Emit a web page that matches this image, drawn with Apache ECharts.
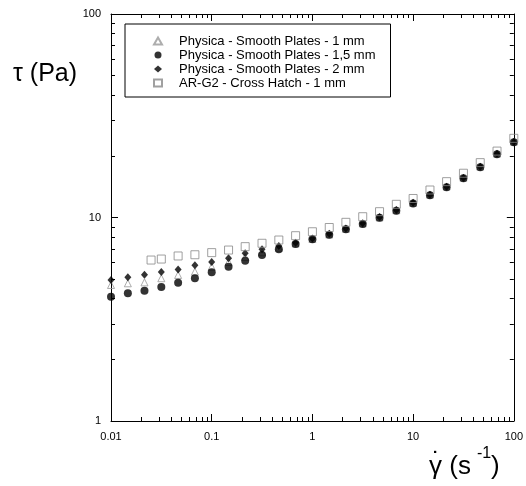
<!DOCTYPE html>
<html>
<head>
<meta charset="utf-8">
<title>tau vs shear rate</title>
<script src="https://cdn.jsdelivr.net/npm/echarts@6/dist/echarts.min.js"></script>
<style>
  html, body { margin: 0; padding: 0; background: #fff; }
  #chart { width: 526px; height: 486px; }
</style>
</head>
<body>
<div id="chart"></div>
<script>
// shear rates (1/s), six points per decade
var shearRate = [0.01, 0.0147, 0.0215, 0.0316, 0.0464, 0.0681, 0.1, 0.147, 0.215, 0.316, 0.464, 0.681,
                 1, 1.47, 2.15, 3.16, 4.64, 6.81, 10, 14.7, 21.5, 31.6, 46.4, 68.1, 100];
// shear stress (Pa)
var smooth1mm  = [4.66, 4.75, 4.80, 5.03, 5.22, 5.42, 5.73, 6.05, 6.40, 6.75, 7.10, 7.45,
                  7.85, 8.25, 8.80, 9.35, 10.0, 10.85, 11.8, 12.95, 14.2, 15.7, 17.8, 20.6, 23.6];
var smooth15mm = [4.08, 4.24, 4.37, 4.56, 4.78, 5.03, 5.38, 5.73, 6.13, 6.54, 6.98, 7.41,
                  7.81, 8.22, 8.75, 9.29, 9.98, 10.8, 11.7, 12.85, 14.07, 15.58, 17.65, 20.45, 23.4];
var smooth2mm  = [4.93, 5.08, 5.23, 5.40, 5.56, 5.82, 6.04, 6.30, 6.67, 6.98, 7.24, 7.52,
                  7.88, 8.32, 8.82, 9.36, 10.05, 10.9, 11.8, 12.95, 14.15, 15.65, 17.75, 20.55, 23.5];
var crossRate  = [0.025, 0.0316, 0.0464, 0.0681, 0.1, 0.147, 0.215, 0.316, 0.464, 0.681,
                  1, 1.47, 2.15, 3.16, 4.64, 6.81, 10, 14.7, 21.5, 31.6, 46.4, 68.1, 100];
var crossHatch1mm = [6.18, 6.25, 6.47, 6.56, 6.72, 6.92, 7.19, 7.47, 7.75, 8.14, 8.51,
                     8.93, 9.47, 10.09, 10.68, 11.61, 12.4, 13.65, 15.0, 16.5, 18.6, 21.2, 24.5];

var seriesNames = ['Physica - Smooth Plates - 1 mm', 'Physica - Smooth Plates - 1,5 mm',
                   'Physica - Smooth Plates - 2 mm', 'AR-G2 - Cross Hatch - 1 mm'];
var minorFactors = [2, 3, 4, 5, 6, 7, 8, 9];

function pairs(xs, ys) {
    var out = [];
    for (var i = 0; i < ys.length; i++) out.push([xs[i], ys[i]]);
    return out;
}
// minor tick positions in log10 space between two decades
function minorTicks(lo, hi) {
    var out = [];
    for (var d = lo; d < hi; d++) {
        for (var j = 0; j < minorFactors.length; j++) out.push(d + Math.log10(minorFactors[j]));
    }
    return out;
}

var font = 'Arial, "Liberation Sans", sans-serif';
var lineStyle = { color: '#000', width: 1 };

function majorAxis(pos, min, max, showLabel) {
    return {
        type: 'log', logBase: 10, position: pos, min: min, max: max,
        axisLine: { show: true, onZero: false, lineStyle: lineStyle },
        axisTick: { show: true, inside: true, length: 7, lineStyle: lineStyle },
        axisLabel: { show: showLabel, color: '#000', fontSize: 11, fontFamily: font, margin: 10 },
        splitLine: { show: false }
    };
}
function minorAxis(pos, lo, hi) {
    return {
        type: 'value', position: pos, min: lo, max: hi,
        axisLine: { show: false, onZero: false },
        axisTick: { show: true, inside: true, length: 4, lineStyle: lineStyle, customValues: minorTicks(lo, hi) },
        axisLabel: { show: false },
        splitLine: { show: false }
    };
}

var chart = echarts.init(document.getElementById('chart'));
var option = {
    animation: false,
    backgroundColor: '#fff',
    grid: { left: 111, right: 7, top: 14, bottom: 65 },
    xAxis: [
        majorAxis('bottom', 0.01, 100, true),
        minorAxis('bottom', -2, 2),
        majorAxis('top', 0.01, 100, false),
        minorAxis('top', -2, 2)
    ],
    yAxis: [
        majorAxis('left', 1, 100, true),
        minorAxis('left', 0, 2),
        majorAxis('right', 1, 100, false),
        minorAxis('right', 0, 2)
    ],
    legend: {
        orient: 'vertical',
        left: 125, top: 24,
        padding: [10, 15, 7, 28],
        itemWidth: 8, itemHeight: 7, itemGap: 0,
        borderColor: '#000', borderWidth: 1,
        backgroundColor: '#fff',
        textStyle: { color: '#000', fontSize: 13, fontFamily: font, lineHeight: 14, padding: [0, 0, 0, 12] },
        data: seriesNames
    },
    graphic: [
        {
            type: 'text', left: 13, top: 62,
            style: { text: 'τ (Pa)', fill: '#000', font: '25px ' + font }
        },
        {
            type: 'text', left: 429, top: 454,
            style: { text: 'γ (s', fill: '#000', font: '26px ' + font }
        },
        {
            type: 'text', left: 432, top: 450,
            style: { text: '˙', fill: '#000', font: '26px ' + font }
        },
        {
            type: 'text', left: 477, top: 446,
            style: { text: '-1', fill: '#000', font: '16px ' + font }
        },
        {
            type: 'text', left: 491, top: 454,
            style: { text: ')', fill: '#000', font: '26px ' + font }
        }
    ],
    series: [
        {
            name: seriesNames[0], type: 'scatter', clip: false,
            symbol: 'triangle', symbolSize: 7,
            itemStyle: { color: 'rgba(0,0,0,0)', borderColor: '#999', borderWidth: 1 },
            data: pairs(shearRate, smooth1mm)
        },
        {
            name: seriesNames[1], type: 'scatter', clip: false,
            symbol: 'circle', symbolSize: 8,
            itemStyle: { color: '#000' },
            data: pairs(shearRate, smooth15mm)
        },
        {
            name: seriesNames[2], type: 'scatter', clip: false,
            symbol: 'diamond', symbolSize: [7, 8],
            itemStyle: { color: '#000' },
            data: pairs(shearRate, smooth2mm)
        },
        {
            name: seriesNames[3], type: 'scatter', clip: false,
            symbol: 'rect', symbolSize: 8,
            itemStyle: { color: 'rgba(0,0,0,0)', borderColor: '#888', borderWidth: 1 },
            data: pairs(crossRate, crossHatch1mm)
        }
    ]
};
chart.setOption(option);
</script>
</body>
</html>
